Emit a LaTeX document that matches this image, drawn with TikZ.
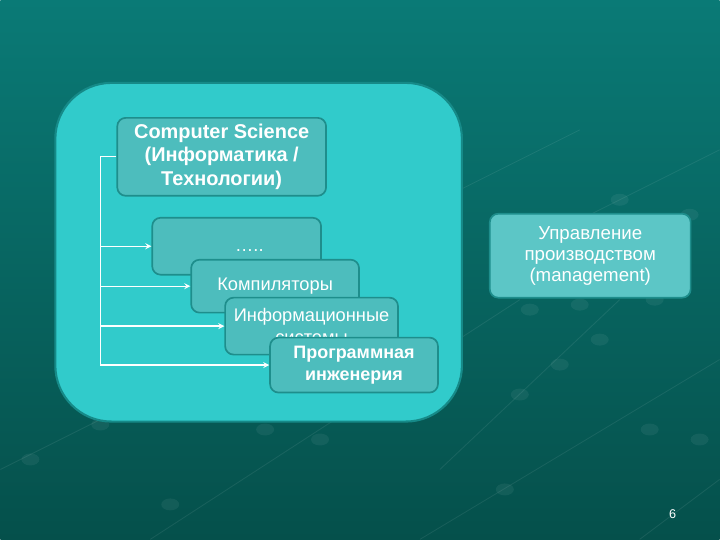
\documentclass[tikz,border=0pt]{standalone}
\usepackage{fontspec}
\setmainfont{Liberation Sans}
\usetikzlibrary{arrows}

\begin{document}
\begin{tikzpicture}[x=0.025cm,y=-0.025cm,
  box/.style={draw=boxline,line width=1.2pt,rounded corners=6pt,fill=boxfill,
    text=white,align=center,inner sep=1pt,font=\fontsize{13}{15.5}\selectfont},
  boldbox/.style={box,font=\bfseries\fontsize{12.8}{15.5}\selectfont},
  link/.style={draw=white,line width=0.9pt,>=stealth}]
\definecolor{deepsea}{HTML}{0A7A76}
\definecolor{abyss}{HTML}{05504B}
\definecolor{lagoon}{HTML}{31CBCB}
\definecolor{reef}{HTML}{168A88}
\definecolor{boxfill}{HTML}{4DBDBD}
\definecolor{boxline}{HTML}{1E8E8C}
\definecolor{shoal}{HTML}{5CC6C6}
% background
\shade[top color=deepsea,bottom color=abyss] (0,0) rectangle (720,540);
\foreach \xa/\ya/\xb/\yb in {460/190/580/130,540/240/720/150,0/470/300/320,
  150/540/520/300,420/540/720/360,640/540/720/480,440/470/620/300}
  {\draw[white,opacity=0.08,line width=0.6pt] (\xa,\ya) -- (\xb,\yb);}
\foreach \cx/\cy in {30/460,170/505,100/425,265/430,320/440,520/395,560/365,
  600/340,655/300,505/490,700/440,650/430,530/310,580/305,690/215,620/200}
  {\fill[white,opacity=0.06] (\cx,\cy) ellipse (9 and 6);}
\node[font=\fontsize{9}{10}\selectfont,text=white] (page) at (673,515) {6};
% big panel
\node[draw=reef,line width=1.5pt,fill=lagoon,rounded corners=40,
  minimum width=10.175cm,minimum height=8.475cm] (panel) at (258.5,252.5) {};
\node[boldbox,minimum width=5.225cm,minimum height=1.95cm,
  font=\bfseries\fontsize{14.2}{17}\selectfont] (cs) at (221.5,157)
  {Computer Science\\(Информатика /\\Технологии)};
\node[box,minimum width=4.225cm,minimum height=1.425cm] (dots) at (236.5,246.5)
  {\hspace*{1.4em}\raisebox{-8pt}{…..}};
\node[box,minimum width=4.2cm,minimum height=1.325cm] (komp) at (275,286.5) {Компиляторы};
\node[box,minimum width=4.325cm,minimum height=1.425cm] (info) at (311.5,326.5) {Информационные\\системы};
\node[boldbox,minimum width=4.2cm,minimum height=1.375cm] (prog) at (354,365.5) {Программная\\инженерия};
\node[box,fill=shoal,minimum width=5.025cm,minimum height=2.1cm,
  font=\fontsize{13.3}{15}\selectfont] (mgmt) at (590.5,256)
  {Управление\\производством\\(management)};
% connectors
\coordinate (spine) at (100,157);
\coordinate (foot) at (100,365);
\draw[link] (cs.west) -- (spine) -- (foot);
\foreach \n in {dots,komp,info,prog}
  {\draw[link,->] (spine |- \n.west) -- (\n.west);}
\end{tikzpicture}
\end{document}
